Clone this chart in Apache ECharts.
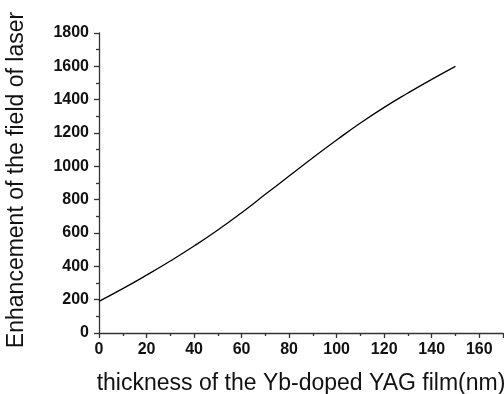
<!DOCTYPE html>
<html>
<head>
<meta charset="utf-8">
<script src="https://cdn.jsdelivr.net/npm/echarts@6/dist/echarts.min.js"></script>
<style>
  html, body { margin: 0; padding: 0; background: #fff; }
  #chart { width: 504px; height: 394px; }
</style>
</head>
<body>
<div id="chart"></div>
<script>
// Film thickness (nm) and the corresponding laser field enhancement
const thickness = [0, 10, 20, 30, 40, 50, 60, 70, 80, 90, 100, 110, 120, 130, 140, 150];
const enhancement = [190, 266, 347, 432, 522, 618, 722, 832, 942, 1052, 1158, 1260, 1354, 1440, 1522, 1600];

const xTitle = 'thickness of the Yb-doped YAG film(nm)';
const yTitle = 'Enhancement of the field of laser';

const points = thickness.map((t, i) => [t, enhancement[i]]);

const axisColor = '#333';
const fontFamily = '"Liberation Sans", Arial, Helvetica, sans-serif';

const chart = echarts.init(document.getElementById('chart'), null, { renderer: 'canvas' });
chart.setOption({
  animation: false,
  backgroundColor: '#fff',
  grid: { left: 99, right: 1, top: 33, bottom: 61, containLabel: false, outerBoundsMode: 'none' },
  xAxis: {
    type: 'value',
    min: 0, max: 170, interval: 20,
    name: xTitle,
    nameLocation: 'middle',
    nameGap: 39,
    nameTextStyle: { fontFamily, fontSize: 23, color: '#111' },
    axisLine: { show: true, onZero: false, lineStyle: { color: axisColor, width: 1.3 } },
    axisTick: { show: true, inside: false, length: 5, lineStyle: { color: axisColor, width: 1.3 } },
    minorTick: { show: true, splitNumber: 2, length: 3, lineStyle: { color: axisColor, width: 1.3 } },
    splitLine: { show: false },
    axisLabel: {
      fontFamily, fontSize: 16, fontWeight: 'bold', color: '#111', margin: 9,
      formatter: v => (v > 160 ? '' : String(v))
    }
  },
  yAxis: {
    type: 'value',
    min: 0, max: 1800, interval: 200,
    name: yTitle,
    nameLocation: 'middle',
    nameGap: 71,
    nameTextStyle: { fontFamily, fontSize: 23, color: '#111', padding: [0, 0, 0, 6] },
    axisLine: { show: true, onZero: false, lineStyle: { color: axisColor, width: 1.3 } },
    axisTick: { show: true, inside: false, length: 5, lineStyle: { color: axisColor, width: 1.3 } },
    minorTick: { show: true, splitNumber: 2, length: 3, lineStyle: { color: axisColor, width: 1.3 } },
    splitLine: { show: false },
    axisLabel: {
      fontFamily, fontSize: 16, fontWeight: 'bold', color: '#111', margin: 10,
      formatter: v => String(v)
    }
  },
  series: [{
    type: 'line',
    data: points,
    smooth: true,
    showSymbol: false,
    lineStyle: { color: '#000', width: 1.3 }
  }]
});
</script>
</body>
</html>
